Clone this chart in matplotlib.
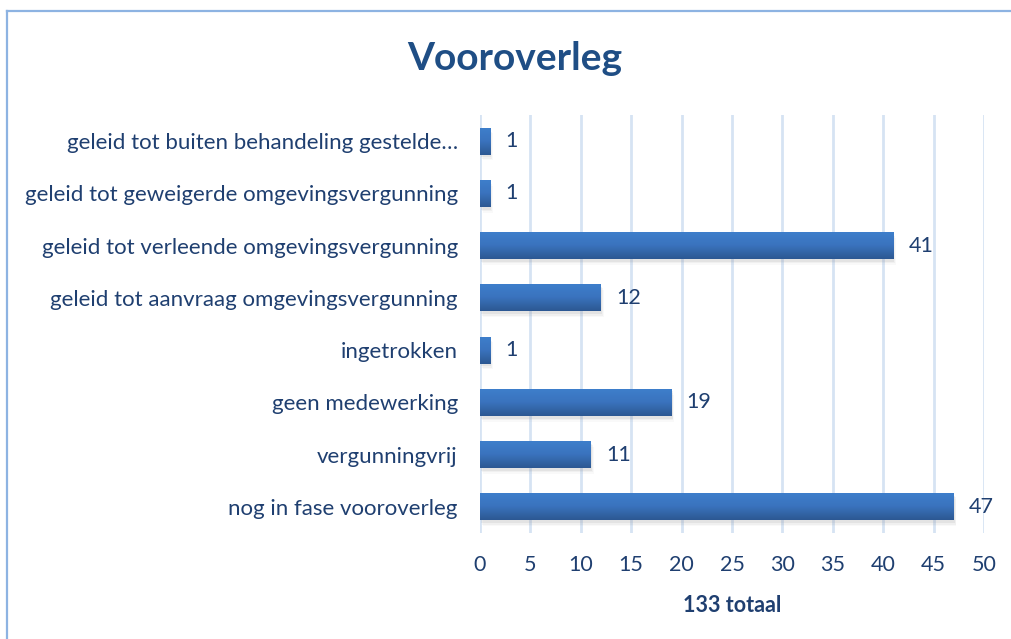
import numpy as np
import matplotlib.pyplot as plt
from matplotlib.lines import Line2D
from matplotlib.colors import LinearSegmentedColormap

# categories from top to bottom as in the chart
categories = [
    "geleid tot buiten behandeling gestelde…",
    "geleid tot geweigerde omgevingsvergunning",
    "geleid tot verleende omgevingsvergunning",
    "geleid tot aanvraag omgevingsvergunning",
    "ingetrokken",
    "geen medewerking",
    "vergunningvrij",
    "nog in fase vooroverleg",
]
values = [1, 1, 41, 12, 1, 19, 11, 47]
x_ticks = [0, 5, 10, 15, 20, 25, 30, 35, 40, 45, 50]

title = "Vooroverleg"
x_label = "133 totaal"

text_color = "#1F3F70"
grid_color = "#D6E3F3"
frame_color = "#8DB3E2"

plt.rcParams['font.family'] = ['Lato', 'DejaVu Sans']

fig = plt.figure(figsize=(10.12, 6.39), dpi=100)
W, H = 1012, 639
# plot area in pixels: left 480, right 984, top 115, bottom 533
ax = fig.add_axes([480 / W, 1 - 533 / H, (984 - 480) / W, (533 - 115) / H])

y = np.arange(len(categories))
bars = ax.barh(y, values, height=0.52, color="#3A70B8", zorder=3)

# soft shadow and vertical gradient for each bar
grad = np.linspace(0, 1, 64).reshape(-1, 1)
cmap = LinearSegmentedColormap.from_list("bar", ["#3E7FCC", "#3A73BE", "#2C5892"])
for b in bars:
    x0, y0 = b.get_x(), b.get_y()
    w, h = b.get_width(), b.get_height()
    for k, a in enumerate([0.10, 0.07, 0.04]):
        ax.add_patch(plt.Rectangle((x0 + 0.1 + 0.08 * k, y0 + 0.05 + 0.03 * k), w, h,
                                   color="#7F7F7F", alpha=a, lw=0, zorder=2))
    im = ax.imshow(grad, extent=(x0, x0 + w, y0 + h, y0), aspect="auto",
                   cmap=cmap, zorder=4, interpolation="bilinear")
    im.set_clip_path(b)

for yi, v in zip(y, values):
    ax.text(v + 1.5, yi, str(v), va="center", ha="left", fontsize=15.5, color=text_color)

ax.set_xlim(0, 50)
ax.set_ylim(len(categories) - 0.5, -0.5)
ax.set_xticks(x_ticks)
ax.set_yticks(y)
ax.set_yticklabels(categories)
ax.tick_params(axis="both", length=0, labelsize=15.5, labelcolor=text_color)
ax.tick_params(axis="y", labelsize=16, pad=16)
ax.tick_params(axis="x", pad=16)
ax.xaxis.grid(True, color=grid_color, lw=2, zorder=0)
ax.set_axisbelow(True)
for s in ax.spines.values():
    s.set_visible(False)
ax.set_xlabel(x_label, fontsize=15.5, fontweight="bold", color=text_color, labelpad=14)

fig.text(515 / W, 1 - 58 / H, title, ha="center", va="center", fontsize=28,
         fontweight="bold", color="#1F4E85")

# chart frame (top and left edges visible)
fig.add_artist(Line2D([7 / W, 1], [1 - 11 / H, 1 - 11 / H], color=frame_color, lw=1.6))
fig.add_artist(Line2D([7 / W, 7 / W], [0, 1 - 11 / H], color=frame_color, lw=1.6))

fig.savefig("out.png", dpi=100)
